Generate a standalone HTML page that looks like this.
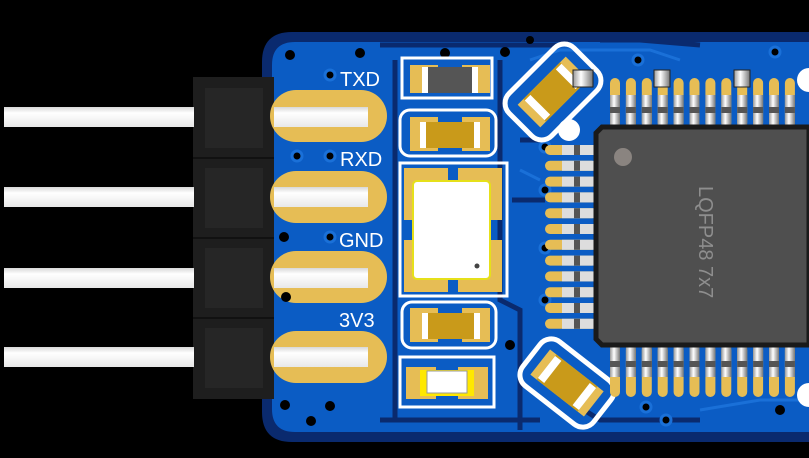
<!DOCTYPE html>
<html><head><meta charset="utf-8"><style>html,body{margin:0;padding:0;background:#000;}svg{display:block}</style></head>
<body>
<svg width="809" height="458" viewBox="0 0 809 458" xmlns="http://www.w3.org/2000/svg">
<defs>
<linearGradient id="pin" x1="0" y1="0" x2="0" y2="1"><stop offset="0" stop-color="#d8d8d8"/><stop offset="0.3" stop-color="#fff"/><stop offset="1" stop-color="#e8e8e8"/></linearGradient>
<linearGradient id="lead" x1="0" y1="0" x2="1" y2="0"><stop offset="0" stop-color="#999"/><stop offset="0.4" stop-color="#fff"/><stop offset="1" stop-color="#777"/></linearGradient>
</defs>
<rect width="809" height="458" fill="#000"/>
<path d="M292 32 H809 V442 H292 Q262 442 262 412 V62 Q262 32 292 32Z" fill="#0a2a6e"/>
<path d="M295 42 H809 V432 H295 Q272 432 272 409 V65 Q272 42 295 42Z" fill="#0b5cc4"/>
<g stroke="#0a2a6e" stroke-width="5" fill="none">
<path d="M395 60 V420"/><path d="M500 60 V300 L520 310 V430"/><path d="M520 140 L545 140"/>
<path d="M512 200 H545"/><path d="M600 40 L640 40 L700 45"/><path d="M560 395 L600 420 H700"/>
<path d="M380 45 H560"/><path d="M380 420 H540"/>
</g>
<g stroke="#1a70d8" stroke-width="3" fill="none">
<path d="M530 60 L560 50 H650 L680 60"/><path d="M520 170 L540 180"/><path d="M700 410 L760 400 H809"/>
</g>
<rect x="193" y="77" width="81" height="322" fill="#1e1e1e"/>
<g stroke="#111" stroke-width="2"><line x1="193" y1="158" x2="274" y2="158"/><line x1="193" y1="238" x2="274" y2="238"/><line x1="193" y1="318" x2="274" y2="318"/></g>
<g fill="#262626"><rect x="205" y="88" width="58" height="60"/><rect x="205" y="168" width="58" height="60"/><rect x="205" y="248" width="58" height="60"/><rect x="205" y="328" width="58" height="60"/></g>
<g fill="#e6bd55">
<rect x="270" y="90" width="117" height="52" rx="26"/><rect x="270" y="171" width="117" height="52" rx="26"/>
<rect x="270" y="251" width="117" height="52" rx="26"/><rect x="270" y="331" width="117" height="52" rx="26"/>
</g>
<g fill="url(#pin)">
<rect x="4" y="107" width="190" height="20"/><rect x="274" y="107" width="94" height="20"/>
<rect x="4" y="187" width="190" height="20"/><rect x="274" y="187" width="94" height="20"/>
<rect x="4" y="268" width="190" height="20"/><rect x="274" y="268" width="94" height="20"/>
<rect x="4" y="347" width="190" height="20"/><rect x="274" y="347" width="94" height="20"/>
</g>
<g font-family="Liberation Sans, sans-serif" font-size="20" fill="#fff">
<text x="340" y="86">TXD</text><text x="340" y="166">RXD</text><text x="339" y="247">GND</text><text x="339" y="327">3V3</text>
</g>
<g fill="#000" stroke="#1a70d8" stroke-width="3">
<circle cx="330" cy="75" r="5"/><circle cx="297" cy="156" r="5"/><circle cx="330" cy="156" r="5"/><circle cx="330" cy="237" r="5"/>
<circle cx="545" cy="147" r="5"/><circle cx="545" cy="190" r="5"/><circle cx="545" cy="248" r="5"/><circle cx="545" cy="300" r="5"/>
<circle cx="638" cy="60" r="5"/><circle cx="775" cy="52" r="5"/><circle cx="646" cy="407" r="5"/><circle cx="666" cy="420" r="5"/>
</g>
<g fill="#000"><circle cx="290" cy="55" r="5"/><circle cx="360" cy="53" r="5"/><circle cx="445" cy="53" r="5"/><circle cx="505" cy="52" r="5"/>
<circle cx="284" cy="237" r="5"/><circle cx="286" cy="297" r="5"/><circle cx="285" cy="405" r="5"/><circle cx="330" cy="406" r="5"/><circle cx="311" cy="421" r="5"/>
<circle cx="510" cy="345" r="5"/><circle cx="780" cy="410" r="5"/><circle cx="530" cy="40" r="4"/></g>
<circle cx="569" cy="130" r="11" fill="#fff"/>
<circle cx="809" cy="80" r="12" fill="#fff"/><circle cx="809" cy="395" r="12" fill="#fff"/>
<g fill="none" stroke="#fff" stroke-width="3">
<rect x="402" y="58" width="90" height="40"/>
<rect x="400" y="110" width="96" height="46" rx="10"/>
<rect x="400" y="163" width="107" height="133"/>
<rect x="402" y="302" width="94" height="46" rx="10"/>
<rect x="400" y="357" width="94" height="50"/>
</g>
<rect x="410" y="65" width="28" height="28" fill="#e6bd55"/><rect x="462" y="65" width="28" height="28" fill="#e6bd55"/>
<rect x="422" y="67" width="56" height="26" fill="#555"/><rect x="422" y="67" width="6" height="26" fill="#fff"/><rect x="472" y="67" width="6" height="26" fill="#fff"/>
<rect x="410" y="117" width="28" height="34" fill="#e6bd55"/><rect x="462" y="117" width="28" height="34" fill="#e6bd55"/>
<rect x="420" y="122" width="60" height="26" fill="#c99a1a"/><rect x="420" y="122" width="6" height="26" fill="#fff"/><rect x="474" y="122" width="6" height="26" fill="#fff"/>
<g fill="#e6bd55"><rect x="404" y="168" width="44" height="52"/><rect x="458" y="168" width="44" height="52"/><rect x="404" y="240" width="44" height="52"/><rect x="458" y="240" width="44" height="52"/></g>
<rect x="413" y="181" width="77" height="98" rx="4" fill="#fff" stroke="#e6e01a" stroke-width="2"/>
<circle cx="477" cy="266" r="2.5" fill="#444"/>
<rect x="410" y="308" width="28" height="34" fill="#e6bd55"/><rect x="462" y="308" width="28" height="34" fill="#e6bd55"/>
<rect x="422" y="313" width="58" height="26" fill="#c99a1a"/><rect x="422" y="313" width="6" height="26" fill="#fff"/><rect x="474" y="313" width="6" height="26" fill="#fff"/>
<rect x="406" y="367" width="30" height="32" fill="#e6bd55"/><rect x="458" y="367" width="30" height="32" fill="#e6bd55"/>
<rect x="420" y="370" width="54" height="26" fill="#ffe800"/><rect x="427" y="371" width="40" height="22" fill="#fff" stroke="#999"/>
<g transform="translate(553,92) rotate(-45)">
<rect x="-46" y="-30" width="92" height="60" rx="14" fill="none" stroke="#fff" stroke-width="5"/>
<rect x="-34" y="-16" width="68" height="32" fill="#e6bd55"/><rect x="-26" y="-16" width="52" height="32" fill="#c99a1a"/>
<rect x="-26" y="-14" width="8" height="28" fill="#fff"/><rect x="18" y="-14" width="8" height="28" fill="#fff"/>
</g>
<g transform="translate(567,383) rotate(38)">
<rect x="-45" y="-28" width="90" height="56" rx="14" fill="none" stroke="#fff" stroke-width="5"/>
<rect x="-34" y="-16" width="68" height="32" fill="#e6bd55"/><rect x="-26" y="-16" width="52" height="32" fill="#c99a1a"/>
<rect x="-26" y="-14" width="8" height="28" fill="#fff"/><rect x="18" y="-14" width="8" height="28" fill="#fff"/>
</g>
<g id="tp">
<rect x="610" y="78" width="10" height="50" rx="5" fill="#e6bd55"/><rect x="610" y="95" width="10" height="32" fill="url(#lead)"/><rect x="610" y="107" width="10" height="6" fill="#555"/>
</g>
<use href="#tp" x="15.9"/><use href="#tp" x="31.8"/><use href="#tp" x="47.7"/><use href="#tp" x="63.6"/><use href="#tp" x="79.5"/><use href="#tp" x="95.4"/><use href="#tp" x="111.3"/><use href="#tp" x="127.2"/><use href="#tp" x="143.1"/><use href="#tp" x="159"/><use href="#tp" x="174.9"/>
<g id="bp">
<rect x="610" y="345" width="10" height="52" rx="5" fill="#e6bd55"/><rect x="610" y="345" width="10" height="32" fill="url(#lead)"/><rect x="610" y="361" width="10" height="6" fill="#555"/>
</g>
<use href="#bp" x="15.9"/><use href="#bp" x="31.8"/><use href="#bp" x="47.7"/><use href="#bp" x="63.6"/><use href="#bp" x="79.5"/><use href="#bp" x="95.4"/><use href="#bp" x="111.3"/><use href="#bp" x="127.2"/><use href="#bp" x="143.1"/><use href="#bp" x="159"/><use href="#bp" x="174.9"/>
<g id="lp">
<rect x="545" y="145" width="52" height="10" rx="5" fill="#e6bd55"/><rect x="562" y="145" width="34" height="10" fill="#ddd"/><rect x="574" y="145" width="6" height="10" fill="#555"/>
</g>
<use href="#lp" y="15.8"/><use href="#lp" y="31.6"/><use href="#lp" y="47.4"/><use href="#lp" y="63.2"/><use href="#lp" y="79"/><use href="#lp" y="94.8"/><use href="#lp" y="110.6"/><use href="#lp" y="126.4"/><use href="#lp" y="142.2"/><use href="#lp" y="158"/><use href="#lp" y="173.8"/>
<rect x="654" y="70" width="16" height="17" fill="url(#lead)" stroke="#222"/>
<rect x="734" y="70" width="16" height="17" fill="url(#lead)" stroke="#222"/>
<rect x="573" y="70" width="20" height="17" fill="url(#lead)" stroke="#222"/>
<path d="M602 127 H809 V345 H602 L596 339 V133Z" fill="#4f4f4f" stroke="#1a1a1a" stroke-width="5"/>
<circle cx="623" cy="157" r="9" fill="#8a8480"/>
<text transform="translate(699,186) rotate(90)" font-family="Liberation Sans, sans-serif" font-size="20" fill="#8e8e8e">LQFP48  7x7</text>
</svg>
</body></html>
